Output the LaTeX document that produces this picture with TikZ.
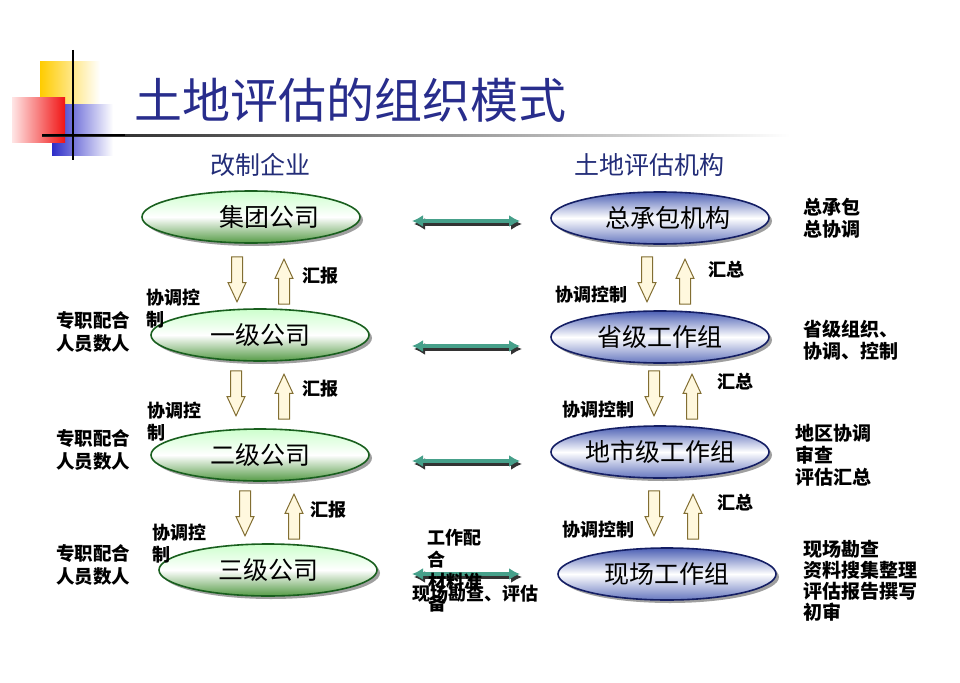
\documentclass[tikz,border=0pt]{standalone}
\usepackage{fontspec}
\newfontfamily\cjk{Noto Sans CJK SC}
\usepackage{tikz}
\usetikzlibrary{shapes.geometric,shapes.arrows,shadows,arrows.meta}

\definecolor{titleblue}{RGB}{40,45,140}
\definecolor{headblue}{RGB}{35,45,120}
\definecolor{firmedge}{RGB}{25,95,30}
\definecolor{firmgreen}{RGB}{85,155,70}
\definecolor{agencyedge}{RGB}{20,30,100}
\definecolor{agencyblue}{RGB}{75,95,180}
\definecolor{linkteal}{RGB}{70,160,138}
\definecolor{flowedge}{RGB}{130,110,50}
\definecolor{flowfill}{RGB}{255,248,222}
\definecolor{logoyellow}{RGB}{255,204,0}
\definecolor{logored}{RGB}{240,20,20}
\definecolor{logoblue}{RGB}{45,45,200}

\begin{document}
\begin{tikzpicture}[x=1pt,y=-1pt,
    firm/.style={ellipse,draw=firmedge,line width=1.6pt,minimum width=218pt,minimum height=52pt,inner sep=0pt,
      top color=green!20!white,bottom color=firmgreen,middle color=white,
      drop shadow={shadow xshift=3pt,shadow yshift=-3pt,fill=black!75},
      font=\cjk\fontsize{25}{25}\selectfont},
    agency/.style={firm,draw=agencyedge,top color=agencyblue,bottom color=agencyblue!85,middle color=white},
    downflow/.style={single arrow,draw=flowedge,line width=1pt,fill=flowfill,minimum height=45pt,minimum width=17pt,
      single arrow head extend=3.5pt,single arrow tip angle=50,inner sep=5pt,rotate=-90,anchor=tip},
    upflow/.style={downflow,rotate=180},
    link/.style={line width=4pt,draw=linkteal,{Latex[length=11pt,width=12pt]}-{Latex[length=11pt,width=12pt]}},
    linkshade/.style={link,draw=black!80},
    lab/.style={inner sep=0pt,align=left,font=\cjk\bfseries\fontsize{18}{22}\selectfont},
    note/.style={lab,font=\cjk\bfseries\fontsize{19}{22}\selectfont}]
  \useasboundingbox (0,0) rectangle (960,682);

  % 标志与标题
  \shade[left color=logoyellow,middle color=logoyellow,right color=white] (40,62) rectangle (100,107);
  \shade[left color=logoblue,middle color=logoblue,right color=white] (52,105) rectangle (113,155);
  \shade[left color=red!10!white,right color=logored] (12,98) rectangle (65,142);
  \shade[left color=black!90,middle color=black!45,right color=white] (42,134) rectangle (790,136.5);
  \draw[line width=2pt] (73,50) -- (73,160);
  \draw[line width=2pt] (42,135) -- (125,135);
  \node[text=titleblue,font=\cjk\fontsize{48}{48}\selectfont] (title) at (350,100) {土地评估的组织模式};
  \node[text=headblue,font=\cjk\fontsize{25}{25}\selectfont] (headL) at (260,165) {改制企业};
  \node[text=headblue,font=\cjk\fontsize{25}{25}\selectfont] (headR) at (649,165) {土地评估机构};

  % 改制企业
  \node[firm] (g1) at (251,217) {\hspace*{18pt}集团公司\hspace*{-18pt}};
  \node[firm] (g2) at (260,335) {一级公司};
  \node[firm] (g3) at (260,455) {二级公司};
  \node[firm] (g4) at (268,570) {三级公司};

  % 土地评估机构
  \node[agency] (b1) at (660,218) {\hspace*{8pt}总承包机构\hspace*{-8pt}};
  \node[agency] (b2) at (660,337) {省级工作组};
  \node[agency] (b3) at (660,452) {地市级工作组};
  \node[agency] (b4) at (667,574) {现场工作组};

  % 上下箭头
  \node[downflow] (gd1) at (237,303) {};
  \node[upflow]   (gu1) at (284,258) {};
  \node[downflow] (gd2) at (236,417) {};
  \node[upflow]   (gu2) at (284,373) {};
  \node[downflow] (gd3) at (245,537) {};
  \node[upflow]   (gu3) at (294,493) {};
  \node[downflow] (bd1) at (647,303) {};
  \node[upflow]   (bu1) at (685,258) {};
  \node[downflow] (bd2) at (654,417) {};
  \node[upflow]   (bu2) at (692,373) {};
  \node[downflow] (bd3) at (654,537) {};
  \node[upflow]   (bu3) at (693,493) {};

  % 左右联系
  \foreach \i/\y in {1/221,2/346,3/461,4/574}{
    \coordinate (la\i) at (412,\y);
    \coordinate (ra\i) at (520,\y);
    \draw[linkshade] ([shift={(2,3)}]la\i) -- ([shift={(2,3)}]ra\i);
    \draw[link] (la\i) -- (ra\i);
  }

  % 左侧文字
  \node[lab,anchor=west] (ctlL1) at (146,309) {协调控\\制};
  \node[lab,anchor=west] (ctlL2) at (147,421.5) {协调控\\制};
  \node[lab,anchor=west] (ctlL3) at (152,543.5) {协调控\\制};
  \node[lab] (rep1) at (320,276) {汇报};
  \node[lab] (rep2) at (320,389) {汇报};
  \node[lab] (rep3) at (328,510) {汇报};
  \node[lab,anchor=west,font=\cjk\bfseries\fontsize{18.5}{23}\selectfont] (staff1) at (56,331.5) {专职配合\\人员数人};
  \node[lab,anchor=west,font=\cjk\bfseries\fontsize{18.5}{23}\selectfont] (staff2) at (56,449.5) {专职配合\\人员数人};
  \node[lab,anchor=west,font=\cjk\bfseries\fontsize{18.5}{23}\selectfont] (staff3) at (56,565) {专职配合\\人员数人};

  % 右侧文字
  \node[lab] (sum1) at (726,270) {汇总};
  \node[lab] (sum2) at (735,382) {汇总};
  \node[lab] (sum3) at (735,503) {汇总};
  \node[lab] (ctlR1) at (591,295) {协调控制};
  \node[lab] (ctlR2) at (598,410) {协调控制};
  \node[lab] (ctlR3) at (598,530) {协调控制};
  \node[note,anchor=west] (duty1) at (803,218) {总承包\\总协调};
  \node[note,anchor=west] (duty2) at (803,340) {省级组织、\\协调、控制};
  \node[note,anchor=west] (duty3) at (795,455.5) {地区协调\\审查\\评估汇总};
  \node[note,anchor=west,font=\cjk\bfseries\fontsize{19}{21}\selectfont] (duty4) at (803,580.5) {现场勘查\\资料搜集整理\\评估报告撰写\\初审};

  % 中间重叠文字
  \node[lab,anchor=west] (coop) at (427,548.5) {工作配\\合};
  \node[lab,anchor=west] (prep) at (428,593) {材料准\\备};
  \node[lab,anchor=west] (site) at (412,594) {现场勘查、评估};
\end{tikzpicture}
\end{document}
